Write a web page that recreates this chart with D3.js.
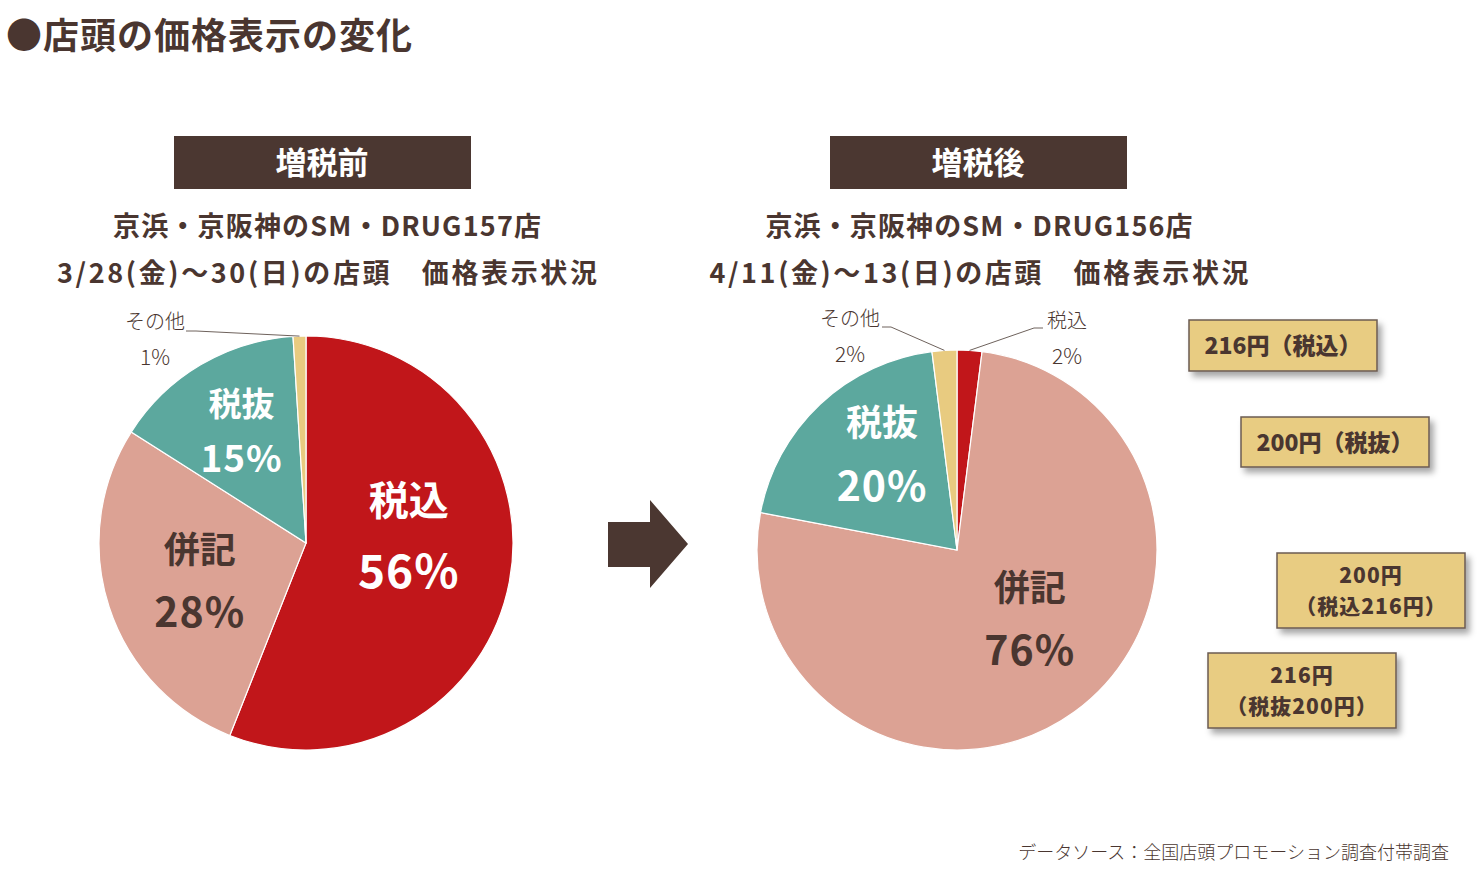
<!DOCTYPE html>
<html>
  <head>
    <meta charset="utf-8">
    <title>店頭の価格表示の変化</title>
    <script src="https://d3js.org/d3.v7.min.js"></script>
    <style>
      body { margin: 0; background: #fff; }
      svg text { font-family: "Noto Sans CJK JP", "Noto Sans", sans-serif; }
    </style>
  </head>
  <body>
    <div id="chart"></div>

    <script>
      // Data
      const categories = ["税込", "併記", "税抜", "その他"];
      const beforeValues = [56, 28, 15, 1];
      const afterValues = [2, 76, 20, 2];

      const beforeTitle = "増税前";
      const afterTitle = "増税後";
      const beforeSub = ["京浜・京阪神のSM・DRUG157店", "3/28(金)～30(日)の店頭　価格表示状況"];
      const afterSub = ["京浜・京阪神のSM・DRUG156店", "4/11(金)～13(日)の店頭　価格表示状況"];

      const priceTags = [
        ["216円（税込）"],
        ["200円（税抜）"],
        ["200円", "（税込216円）"],
        ["216円", "（税抜200円）"]
      ];

      const brown = "#4a3630";
      const colors = d3.scaleOrdinal()
        .domain(categories)
        .range(["#c1161a", "#dca294", "#5ca89e", "#e8cb80"]);
      const labelColors = { "税込": "#fff", "併記": brown, "税抜": "#fff" };

      const width = 1480, height = 877;
      const svg = d3.select("#chart").append("svg")
        .attr("width", width)
        .attr("height", height);

      const defs = svg.append("defs");
      const shadow = defs.append("filter").attr("id", "shadow")
        .attr("x", "-20%").attr("y", "-20%").attr("width", "140%").attr("height", "160%");
      shadow.append("feDropShadow")
        .attr("dx", 4).attr("dy", 5).attr("stdDeviation", 3)
        .attr("flood-color", "#000").attr("flood-opacity", 0.35);

      // Title
      svg.append("text")
        .attr("x", 6).attr("y", 49)
        .attr("font-size", 36).attr("font-weight", 700)
        .attr("letter-spacing", 1)
        .attr("fill", brown)
        .text("●店頭の価格表示の変化");

      const pie = d3.pie().sort(null).value((d) => d.value);

      function drawPanel(cfg) {
        const g = svg.append("g");

        // header box
        g.append("rect")
          .attr("x", cfg.boxX).attr("y", 136)
          .attr("width", 297).attr("height", 53)
          .attr("fill", "#4b3731");
        g.append("text")
          .attr("x", cfg.boxX + 148).attr("y", 174)
          .attr("text-anchor", "middle")
          .attr("font-size", 31).attr("font-weight", 700)
          .attr("fill", "#fff")
          .text(cfg.title);

        // sub titles
        cfg.sub.forEach((s, i) => {
          g.append("text")
            .attr("x", cfg.subX).attr("y", 236 + i * 47)
            .attr("text-anchor", "middle")
            .attr("font-size", 27).attr("font-weight", 700)
            .attr("fill", brown)
            .attr("textLength", cfg.subLen[i])
            .attr("lengthAdjust", "spacing")
            .text(s);
        });

        const data = categories.map((c, i) => ({ name: c, value: cfg.values[i] }));
        const arcs = pie(data);
        const arc = d3.arc().innerRadius(0).outerRadius(cfg.r);

        const pg = g.append("g").attr("transform", `translate(${cfg.cx},${cfg.cy})`);

        pg.selectAll("path")
          .data(arcs)
          .join("path")
          .attr("d", arc)
          .attr("fill", (d) => colors(d.data.name))
          .attr("stroke", "#fff")
          .attr("stroke-width", 1.2);

        // labels inside big slices
        arcs.filter((d) => d.data.value >= 10).forEach((d) => {
          const st = cfg.labels[d.data.name];
          const la = d3.arc().innerRadius(0).outerRadius(cfg.r * st.r * 2);
          const [x, y] = la.centroid(d);
          const t = pg.append("g").attr("transform", `translate(${x + st.nudge[0]},${y + st.nudge[1]})`);
          t.append("text")
            .attr("y", -st.gap / 2)
            .attr("dominant-baseline", "central")
            .attr("text-anchor", "middle")
            .attr("font-size", st.name).attr("font-weight", 700)
            .attr("fill", labelColors[d.data.name])
            .text(d.data.name);
          t.append("text")
            .attr("y", st.gap / 2)
            .attr("dominant-baseline", "central")
            .attr("text-anchor", "middle")
            .attr("font-size", st.pct).attr("font-weight", 700)
            .attr("fill", labelColors[d.data.name])
            .attr("letter-spacing", 1)
            .text(d.data.value + "%");
        });

        // small slices with leader lines
        arcs.filter((d) => d.data.value < 10).forEach((d) => {
          const pos = cfg.small[d.data.name];
          const edge = d3.arc().innerRadius(cfg.r).outerRadius(cfg.r).centroid(d);
          pg.append("polyline")
            .attr("points", [[pos.lx, pos.ly], [pos.lx2, pos.ly], edge].map((p) => p.join(",")).join(" "))
            .attr("fill", "none")
            .attr("stroke", "#6e625c")
            .attr("stroke-width", 1);
          pg.append("text")
            .attr("x", pos.tx).attr("y", pos.ty)
            .attr("text-anchor", "middle")
            .attr("font-size", 20).attr("font-weight", 300)
            .attr("fill", brown)
            .text(d.data.name);
          pg.append("text")
            .attr("x", pos.tx).attr("y", pos.ty + 36)
            .attr("text-anchor", "middle")
            .attr("font-size", 21).attr("font-weight", 300)
            .attr("fill", brown)
            .text(d.data.value + "%");
        });
      }

      drawPanel({
        title: beforeTitle, sub: beforeSub, values: beforeValues, subLen: [428, 540],
        boxX: 174, subX: 327, cx: 306, cy: 543, r: 207,
        labels: {
          "税込": { r: 0.5, nudge: [1, -29], name: 40, pct: 46, gap: 70 },
          "併記": { r: 0.55, nudge: [2, 0], name: 36, pct: 41, gap: 62 },
          "税抜": { r: 0.64, nudge: [3, 0], name: 33, pct: 37, gap: 54 }
        },
        small: { "その他": { tx: -151, ty: -214, lx: -120, lx2: -110, ly: -212 } }
      });

      drawPanel({
        title: afterTitle, sub: afterSub, values: afterValues, subLen: [427, 539],
        boxX: 830, subX: 979, cx: 957, cy: 550, r: 200,
        labels: {
          "併記": { r: 0.5, nudge: [14, -15], name: 36, pct: 41, gap: 62 },
          "税抜": { r: 0.62, nudge: [10, -8], name: 36, pct: 41, gap: 63 }
        },
        small: {
          "その他": { tx: -107, ty: -224, lx: -75, lx2: -66, ly: -223 },
          "税込": { tx: 110, ty: -222, lx: 86, lx2: 77, ly: -222 }
        }
      });

      // arrow
      const arrow = d3.path();
      arrow.moveTo(608, 522);
      arrow.lineTo(650, 522);
      arrow.lineTo(650, 500);
      arrow.lineTo(688, 544);
      arrow.lineTo(650, 588);
      arrow.lineTo(650, 567);
      arrow.lineTo(608, 567);
      arrow.closePath();
      svg.append("path").attr("d", arrow.toString()).attr("fill", "#4b3731");

      // price tags
      const tagBoxes = [
        { x: 1189, y: 320, w: 188, h: 51 },
        { x: 1241, y: 417, w: 188, h: 50 },
        { x: 1277, y: 553, w: 188, h: 75 },
        { x: 1208, y: 653, w: 188, h: 75 }
      ];
      priceTags.forEach((lines, i) => {
        const b = tagBoxes[i];
        const tg = svg.append("g");
        tg.append("rect")
          .attr("x", b.x).attr("y", b.y)
          .attr("width", b.w).attr("height", b.h)
          .attr("fill", "#e8cc82")
          .attr("stroke", "#6b5b52")
          .attr("stroke-width", 1.5)
          .attr("filter", "url(#shadow)");
        const two = lines.length > 1;
        const fs = two ? 21 : 23;
        const step = 31;
        const y0 = b.y + b.h / 2 - (lines.length - 1) * step / 2 + fs * 0.38;
        lines.forEach((l, j) => {
          tg.append("text")
            .attr("x", b.x + b.w / 2).attr("y", y0 + j * step)
            .attr("text-anchor", "middle")
            .attr("font-size", fs).attr("font-weight", 900)
            .attr("letter-spacing", two ? 1 : 0)
            .attr("fill", brown)
            .text(l);
        });
      });

      // source
      svg.append("text")
        .attr("x", 1449).attr("y", 859)
        .attr("text-anchor", "end")
        .attr("font-size", 18).attr("font-weight", 300)
        .attr("fill", brown)
        .text("データソース：全国店頭プロモーション調査付帯調査");
    </script>
  </body>
</html>
